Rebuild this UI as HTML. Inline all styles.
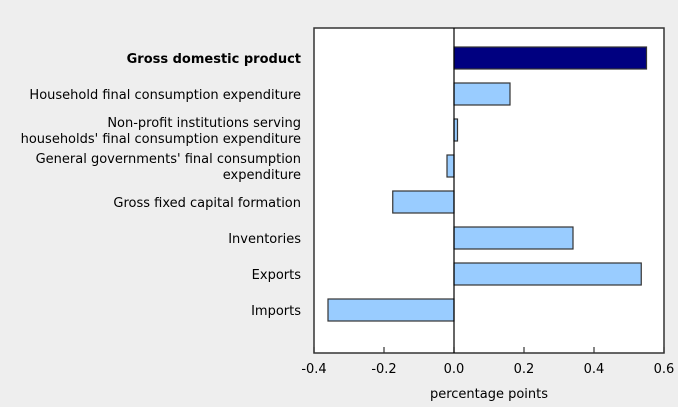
<!DOCTYPE html>
<html><head><meta charset="utf-8">
<style>
html,body{margin:0;padding:0;background:#eeeeee;}
svg{display:block;font-family:"DejaVu Sans","Liberation Sans",sans-serif;font-size:13px;fill:#000;}
</style></head>
<body>
<svg id="chart" width="678" height="407">
<rect x="314" y="28" width="350" height="325" fill="#fff" stroke="#333" stroke-width="1.5"/>
<g id="bars"></g>
<g id="labels"></g>
<g id="ticks"></g>
<line id="zero" stroke="#000" stroke-width="1.2"/>
<text x="489" y="398" text-anchor="middle">percentage points</text>
</svg>
<script>
const categories = [["Gross domestic product"],["Household final consumption expenditure"],["Non-profit institutions serving","households' final consumption expenditure"],["General governments' final consumption","expenditure"],["Gross fixed capital formation"],["Inventories"],["Exports"],["Imports"]];
const values = [0.55,0.16,0.01,-0.02,-0.175,0.34,0.535,-0.36];
const tickValues = [-0.4,-0.2,0,0.2,0.4,0.6];
const tickLabels = ["-0.4","-0.2","0.0","0.2","0.4","0.6"];

const NS="http://www.w3.org/2000/svg";
const x0=314,x1=664,xmin=-0.4,xmax=0.6;
const xs=v=>x0+(v-xmin)/(xmax-xmin)*(x1-x0);
const rowY=i=>58+i*36;
function mk(tag,attrs,parent){const e=document.createElementNS(NS,tag);for(const k in attrs)e.setAttribute(k,attrs[k]);parent.appendChild(e);return e;}
const bars=document.getElementById('bars'),labels=document.getElementById('labels'),ticks=document.getElementById('ticks');
values.forEach((v,i)=>{
  const a=xs(0),b=xs(v);
  const r=mk('rect',{x:Math.min(a,b),y:rowY(i)-11,width:Math.abs(b-a),height:22,fill:i===0?'#000080':'#99ccff',stroke:'#333','stroke-width':1.2},bars);
  
  
  const lines=categories[i];
  const t=mk('text',{x:301,'text-anchor':'end'},labels);
  
  
  if(i===0)t.setAttribute('font-weight','bold');
  lines.forEach((ln,j)=>{
    const ts=mk('tspan',{x:301,y:rowY(i)+5+(lines.length===2?(j===0?-8:8):0)},t);
    ts.textContent=ln;
  });
});
tickValues.forEach((v,i)=>{
  const x=xs(v);
  const l=mk('line',{x1:x,x2:x,y1:353,y2:347,stroke:'#333','stroke-width':1.2},ticks);
  
  
  const t=mk('text',{x:x,y:373,'text-anchor':'middle'},ticks);
  
  
  t.textContent=tickLabels[i];
});
const z=document.getElementById('zero');
z.setAttribute('x1',xs(0));z.setAttribute('x2',xs(0));z.setAttribute('y1',28);z.setAttribute('y2',353);
</script>
</body></html>
